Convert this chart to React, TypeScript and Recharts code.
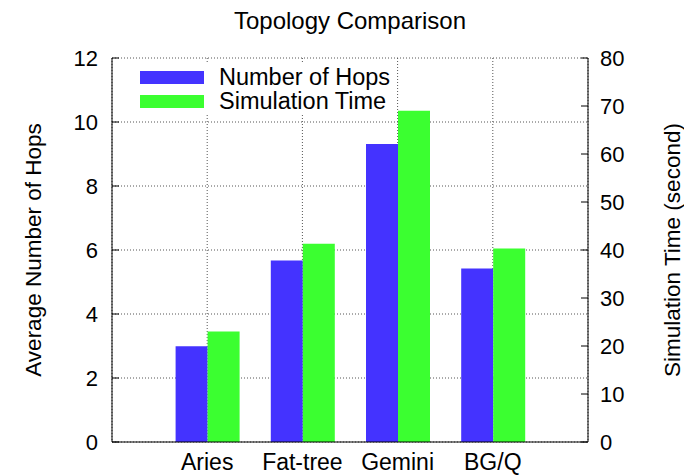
import {
  Bar,
  BarChart,
  CartesianGrid,
  Legend,
  XAxis,
  YAxis,
} from "recharts"

const TOPOLOGIES = ["Aries", "Fat-tree", "Gemini", "BG/Q"]
const AVG_HOPS = [2.99, 5.67, 9.31, 5.42]
const SIM_TIME = [23.0, 41.3, 69.0, 40.3]
const HOPS_TICKS = [0, 2, 4, 6, 8, 10, 12]
const TIME_TICKS = [0, 10, 20, 30, 40, 50, 60, 70, 80]
const CAT_TICKS = [0, 1, 2, 3]

const FONT = "'Liberation Sans', Arial, Helvetica, sans-serif"
const BLUE = "#4433ff"
const GREEN = "#3bff30"
const LEFT_MARGIN = 14
const RIGHT_MARGIN = 12
const INNER_TICK = 7

const rows = TOPOLOGIES.map((name, i) => ({
  pos: i,
  name,
  hops: AVG_HOPS[i],
  time: SIM_TIME[i],
}))

function LeftTick(props: any) {
  const { x, y, payload } = props
  return (
    <g>
      <line x1={x + LEFT_MARGIN} x2={x + LEFT_MARGIN + INNER_TICK} y1={y} y2={y} stroke="#000" />
      <text x={x} y={y} dy="0.35em" textAnchor="end" fontSize={22} fontFamily={FONT} fill="#000">
        {payload.value}
      </text>
    </g>
  )
}

function RightTick(props: any) {
  const { x, y, payload } = props
  return (
    <g>
      <line x1={x - RIGHT_MARGIN - INNER_TICK} x2={x - RIGHT_MARGIN} y1={y} y2={y} stroke="#000" />
      <text x={x} y={y} dy="0.35em" textAnchor="start" fontSize={22} fontFamily={FONT} fill="#000">
        {payload.value}
      </text>
    </g>
  )
}

const legendItems = [
  { label: "Number of Hops", color: BLUE },
  { label: "Simulation Time", color: GREEN },
]

function renderLegend() {
  return (
    <div
      style={{
        fontFamily: FONT,
        fontSize: 23.5,
        color: "#000",
        background: "#fff",
        padding: "1px 6px 1px 5px",
      }}
    >
      {legendItems.map((item) => (
        <div key={item.label} style={{ display: "flex", alignItems: "center", height: 24 }}>
          <div style={{ width: 64, height: 13, background: item.color, marginRight: 15 }} />
          <span style={{ lineHeight: "22px", whiteSpace: "nowrap" }}>{item.label}</span>
        </div>
      ))}
    </div>
  )
}

export default function App() {
  return (
    <div style={{ position: "absolute", left: 0, top: 0, width: 684, height: 476, background: "#fff" }}>
      <div
        style={{
          position: "absolute",
          left: 112,
          width: 476,
          top: 7,
          textAlign: "center",
          fontFamily: FONT,
          fontSize: 24,
          color: "#000",
        }}
      >
        Topology Comparison
      </div>
      <BarChart
        width={684}
        height={476}
        data={rows}
        barGap={0}
        margin={{ top: 58, right: 0, bottom: 0, left: 0 }}
      >
        <CartesianGrid
          xAxisId="bottom"
          yAxisId="hops"
          stroke="#555"
          strokeDasharray="1 2"
        />
        <Bar
          xAxisId="bottom"
          yAxisId="hops"
          dataKey="hops"
          name="Number of Hops"
          fill={BLUE}
          barSize={32}
          isAnimationActive={false}
        />
        <Bar
          xAxisId="bottom"
          yAxisId="time"
          dataKey="time"
          name="Simulation Time"
          fill={GREEN}
          barSize={32}
          isAnimationActive={false}
        />
        <XAxis
          xAxisId="bottom"
          type="number"
          dataKey="pos"
          domain={[-1, 4]}
          ticks={CAT_TICKS}
          allowDecimals={false}
          tickFormatter={(v: number) => TOPOLOGIES[v] ?? ""}
          height={34}
          axisLine={{ stroke: "#000" }}
          tickLine={false}
          tickSize={0}
          tickMargin={12}
          tick={{ fontSize: 23, fontFamily: FONT, fill: "#000" }}
        />
        <XAxis
          xAxisId="top"
          orientation="top"
          type="number"
          dataKey="pos"
          domain={[-1, 4]}
          ticks={CAT_TICKS}
          height={0}
          mirror
          tick={false}
          tickSize={INNER_TICK}
          axisLine={{ stroke: "#000" }}
          tickLine={{ stroke: "#000" }}
        />
        <YAxis
          yAxisId="hops"
          orientation="left"
          domain={[0, 12]}
          ticks={HOPS_TICKS}
          width={112}
          axisLine={{ stroke: "#000" }}
          tickLine={false}
          tickSize={0}
          tickMargin={LEFT_MARGIN}
          tick={<LeftTick />}
          label={{
            value: "Average Number of Hops",
            angle: -90,
            position: "insideLeft",
            offset: 33,
            style: { textAnchor: "middle", fontSize: 22.5, fontFamily: FONT, fill: "#000" },
          }}
        />
        <YAxis
          yAxisId="time"
          orientation="right"
          domain={[0, 80]}
          ticks={TIME_TICKS}
          width={96}
          axisLine={{ stroke: "#000" }}
          tickLine={false}
          tickSize={0}
          tickMargin={RIGHT_MARGIN}
          tick={<RightTick />}
          label={{
            value: "Simulation Time (second)",
            angle: -90,
            position: "insideRight",
            offset: 12,
            style: { textAnchor: "middle", fontSize: 22.5, fontFamily: FONT, fill: "#000" },
          }}
        />
        <Legend
          layout="vertical"
          align="center"
          verticalAlign="middle"
          wrapperStyle={{ left: 135, top: 64, width: "auto" }}
          content={renderLegend}
        />
      </BarChart>
    </div>
  )
}
